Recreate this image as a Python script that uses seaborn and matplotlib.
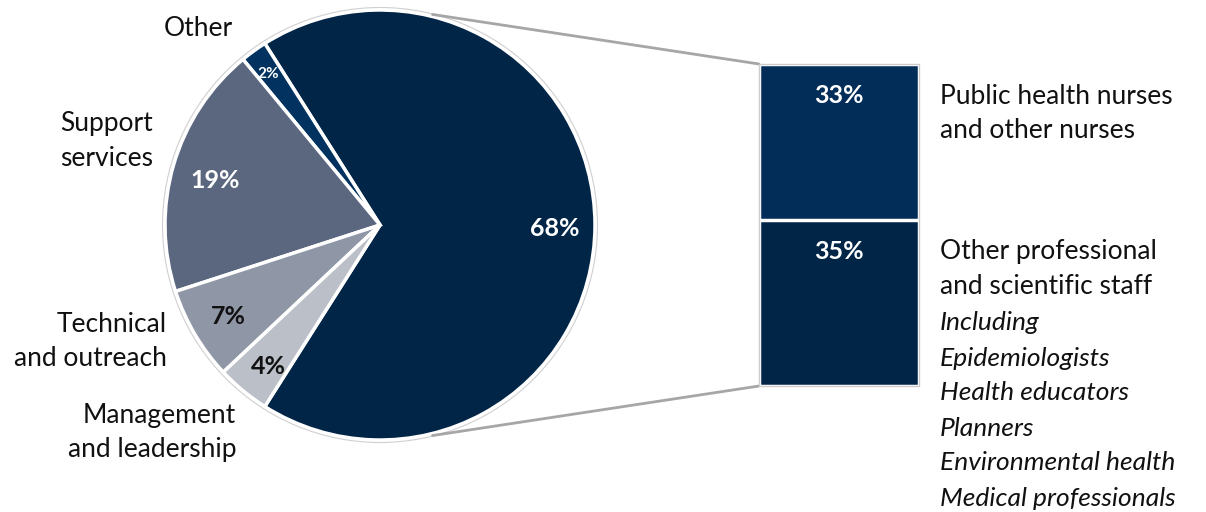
import numpy as np
import matplotlib
matplotlib.use("Agg")
import matplotlib.pyplot as plt
import seaborn as sns

# ---- data ----
pie_labels = ["Professional staff", "Other", "Support\nservices", "Technical\nand outreach", "Management\nand leadership"]
pie_values = [68, 2, 19, 7, 4]
pie_colors = ["#012547", "#02325F", "#5A677F", "#8F97A7", "#BBBFC7"]
pie_text_colors = ["white", "white", "white", "#111111", "#111111"]

bar_labels = ["Other professional\nand scientific staff", "Public health nurses\nand other nurses"]
bar_values = [35, 33]
bar_colors = ["#012547", "#022D58"]
including = ["Including", "Epidemiologists", "Health educators", "Planners",
             "Environmental health", "Medical professionals"]

sns.set_theme(style="white")
plt.rcParams["font.family"] = ["Lato", "DejaVu Sans"]

W, H = 1206, 512
fig = plt.figure(figsize=(W / 100, H / 100), dpi=100)
ax = fig.add_axes([0, 0, 1, 1])

def py(y):
    return H - y

cx, cy, r = 380, py(225), 215
start = -360 * pie_values[0] / 100 / 2
wedges, _ = ax.pie(pie_values, colors=pie_colors, startangle=start, counterclock=True,
                   center=(cx, cy), radius=r, frame=True,
                   wedgeprops=dict(edgecolor="white", linewidth=2.5))
ax.set_xlim(0, W)
ax.set_ylim(0, H)
ax.set_aspect("equal")
ax.axis("off")
circ = plt.Circle((cx, cy), r + 2.5, fill=False, edgecolor="#D0D0D0", linewidth=0.8)
ax.add_patch(circ)

# percent labels in pie
pct_pos = [(555, 228), (268, 74), (215, 181), (228, 317), (268, 366)]
pct_size = [18, 11, 18, 18, 18]
for v, (x, y), c, s in zip(pie_values, pct_pos, pie_text_colors, pct_size):
    ax.text(x, py(y), f"{v}%", color=c, fontsize=s, fontweight="bold", ha="center", va="center")

fs = 19
def multiline(x, y0, text, ha, style="normal", step=35):
    for i, line in enumerate(text.split("\n")):
        ax.text(x, py(y0 + step * i), line, fontsize=fs, ha=ha, va="center",
                color="#111111", style=style)

# category labels
multiline(233, 28, pie_labels[1], "right")
multiline(153, 124, pie_labels[2], "right")
multiline(167, 324, pie_labels[3], "right")
multiline(236, 415, pie_labels[4], "right")

# connector lines
bx0, bx1, btop, bbot = 759, 919, 64, 386
a = np.deg2rad(76)
ax.plot([cx + (r + 2) * np.cos(a), bx0], [cy + (r + 2) * np.sin(a), py(btop)], color="#A6A6A6", lw=2)
ax.plot([cx + (r + 2) * np.cos(a), bx0], [cy - (r + 2) * np.sin(a), py(bbot)], color="#A6A6A6", lw=2)

# stacked bar (inset axes)
bax = fig.add_axes([bx0 / W, (H - bbot) / H, (bx1 - bx0) / W, (bbot - btop) / H])
total = sum(bar_values)
sns.barplot(x=[0], y=[total], color=bar_colors[1], width=1.0, ax=bax,
            edgecolor="white", linewidth=2.5, saturation=1)
sns.barplot(x=[0], y=[bar_values[0]], color=bar_colors[0], width=1.0, ax=bax,
            edgecolor="white", linewidth=2.5, saturation=1)
bax.set_xlim(-0.5, 0.5)
bax.set_ylim(0, total)
bax.axis("off")
bax.add_patch(plt.Rectangle((0, 0), 1, 1, transform=bax.transAxes, fill=False,
                            edgecolor="#CCCCCC", linewidth=1, clip_on=False))
bax.text(0, total - 6.6, f"{bar_values[1]}%", color="white", fontsize=18, fontweight="bold", ha="center", va="center")
bax.text(0, bar_values[0] - 6.6, f"{bar_values[0]}%", color="white", fontsize=18, fontweight="bold", ha="center", va="center")

# right labels
multiline(940, 96, bar_labels[1], "left")
multiline(940, 252, bar_labels[0], "left")
for i, t in enumerate(including):
    ax.text(940, py(323 + 35 * i), t, fontsize=fs, style="italic", ha="left", va="center", color="#111111")

fig.savefig("out.png", dpi=100, facecolor="white")
